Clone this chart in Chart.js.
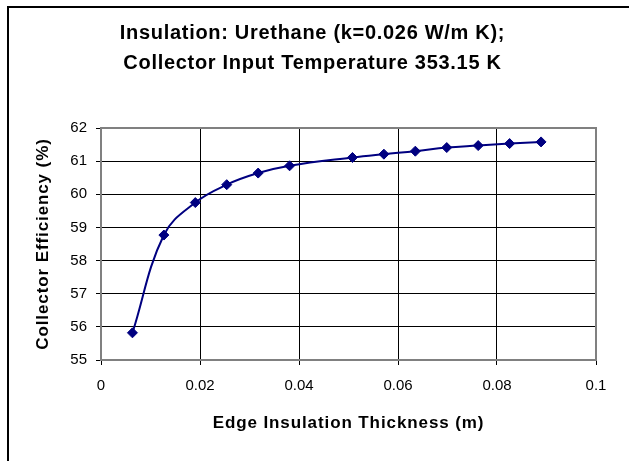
<!DOCTYPE html>
<html>
<head>
<meta charset="utf-8">
<script src="https://cdn.jsdelivr.net/npm/chart.js@4"></script>
<style>
html,body{margin:0;padding:0;background:#fff;}
canvas{display:block;}
</style>
</head>
<body>
<canvas id="c" width="629" height="461"></canvas>
<script>
const titleLines = ['Insulation: Urethane (k=0.026 W/m K);', 'Collector Input Temperature 353.15 K'];
const xTitle = 'Edge Insulation Thickness (m)';
const yTitle = 'Collector Efficiency (%)';
const thickness = [0.00635, 0.0127, 0.01905, 0.0254, 0.03175, 0.0381, 0.0508, 0.05715, 0.0635, 0.06985, 0.0762, 0.08255, 0.0889];
const efficiency = [55.82, 58.77, 59.75, 60.29, 60.64, 60.86, 61.11, 61.21, 61.30, 61.41, 61.47, 61.53, 61.58];
const xTickLabels = ['0', '0.02', '0.04', '0.06', '0.08', '0.1'];
const yTickLabels = ['55', '56', '57', '58', '59', '60', '61', '62'];

const FONT = "'Liberation Sans', Arial, sans-serif";

// Slightly wider bold text, as in the original rendering
(function(){
  const proto = CanvasRenderingContext2D.prototype;
  const orig = proto.fillText;
  proto.fillText = function(text, x, y, maxWidth){
    let prev = null;
    if ('letterSpacing' in this && /bold/.test(this.font)) {
      const m = this.font.match(/(\d+(?:\.\d+)?)px/);
      const size = m ? parseFloat(m[1]) : 16;
      prev = this.letterSpacing;
      this.letterSpacing = (size >= 19 ? 0.7 : 0.9) + 'px';
    }
    if (maxWidth === undefined) orig.call(this, text, x, y);
    else orig.call(this, text, x, y, maxWidth);
    if (prev !== null) this.letterSpacing = prev;
  };
})();

const framePlugin = {
  id: 'frame',
  beforeDraw(chart){
    const c = chart.ctx;
    c.save();
    c.fillStyle = '#fff';
    c.fillRect(0, 0, chart.width, chart.height);
    c.fillStyle = '#000';
    c.fillRect(7, 6, 2, chart.height - 6);
    c.fillRect(7, 6, chart.width - 7, 2);
    c.restore();
  },
  beforeDatasetsDraw(chart){
    const a = chart.chartArea;
    const c = chart.ctx;
    c.save();
    c.strokeStyle = '#808080';
    c.lineWidth = 2;
    c.strokeRect(a.left, a.top, a.right - a.left, a.bottom - a.top);
    c.restore();
  }
};

new Chart(document.getElementById('c'), {
  type: 'line',
  data: {
    datasets: [{
      data: thickness.map((t, i) => ({x: t, y: efficiency[i]})),
      borderColor: '#000080',
      backgroundColor: '#000080',
      borderWidth: 2,
      tension: 0.4,
      pointStyle: 'rectRot',
      pointRadius: 5,
      pointBorderWidth: 1,
      pointBackgroundColor: '#000080',
      pointBorderColor: '#000080',
      fill: false
    }]
  },
  options: {
    responsive: false,
    animation: false,
    devicePixelRatio: 1,
    layout: {padding: {left: 29, right: 33, top: 0, bottom: 0}},
    plugins: {
      legend: {display: false},
      tooltip: {enabled: false},
      title: {
        display: true,
        text: titleLines,
        color: '#000',
        font: {family: FONT, size: 20, weight: 'bold', lineHeight: 30/20},
        padding: {top: 18, bottom: 50}
      }
    },
    scales: {
      x: {
        type: 'linear',
        min: 0, max: 0.1,
        afterFit(s){ s.height = 101; },
        ticks: {
          stepSize: 0.02,
          color: '#000',
          padding: 12,
          font: {family: FONT, size: 15, lineHeight: 1.2},
          maxRotation: 0,
          callback: (v, i) => xTickLabels[i] !== undefined ? xTickLabels[i] : ''
        },
        grid: {color: '#000', lineWidth: 1, drawTicks: true, tickLength: 5, tickColor: '#000'},
        border: {display: false},
        title: {
          display: true,
          text: xTitle,
          color: '#000',
          font: {family: FONT, size: 17, weight: 'bold', lineHeight: 1.2},
          padding: {top: 0, bottom: 27}
        }
      },
      y: {
        min: 55, max: 62,
        afterFit(s){ s.width = 72; },
        ticks: {
          stepSize: 1,
          color: '#000',
          padding: 9,
          font: {family: FONT, size: 15, lineHeight: 1.2},
          callback: (v, i) => yTickLabels[i] !== undefined ? yTickLabels[i] : ''
        },
        grid: {color: '#000', lineWidth: 1, drawTicks: true, tickLength: 5, tickColor: '#000'},
        border: {display: false},
        title: {
          display: true,
          text: yTitle,
          color: '#000',
          font: {family: FONT, size: 17, weight: 'bold', lineHeight: 1.2},
          padding: {top: 4, bottom: 0}
        }
      }
    }
  },
  plugins: [framePlugin]
});
</script>
</body>
</html>
